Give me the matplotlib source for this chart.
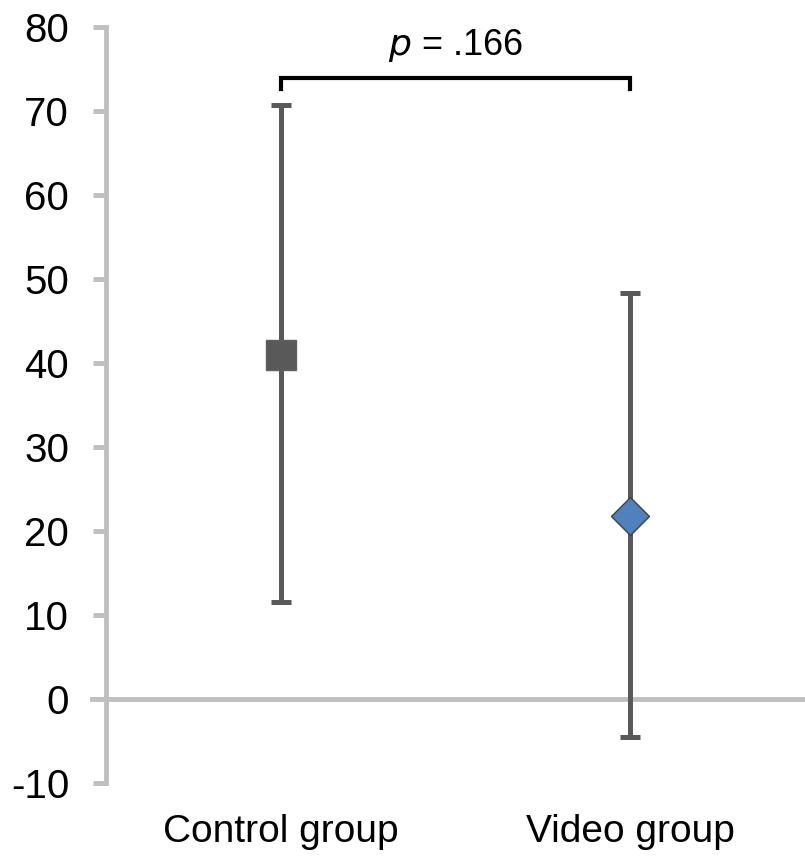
import matplotlib.pyplot as plt

plt.rcParams['font.family'] = ['Liberation Sans', 'DejaVu Sans']
plt.rcParams['axes.unicode_minus'] = False

groups = ['Control group', 'Video group']
means = [41.0, 21.8]
ci_low = [11.5, -4.5]
ci_high = [70.7, 48.3]
markers = ['s', 'D']
face_colors = ['#595959', '#4F81BD']
marker_sizes = [21, 19]
p_label = '.166'
bracket_y = 73.9
bracket_drop = 1.3

fig = plt.figure(figsize=(8.05, 8.57), dpi=100)
ax = fig.add_axes([0.1317, 0.0863, 0.8683, 0.8822])

axis_grey = '#BFBFBF'
bar_grey = '#595959'

# zero line (horizontal axis crossing at 0)
ax.axhline(0, xmin=-0.02, xmax=1, color=axis_grey, lw=3.5, clip_on=False, zorder=1)

for i in range(len(groups)):
    ax.errorbar(i, means[i],
                yerr=[[means[i] - ci_low[i]], [ci_high[i] - means[i]]],
                fmt='none', ecolor=bar_grey, elinewidth=3.6, capsize=7.5,
                capthick=3.6, zorder=2)
    ax.plot(i, means[i], marker=markers[i], ms=marker_sizes[i],
            mfc=face_colors[i], mec='#404040' if i else '#606060', mew=1.0,
            ls='none', zorder=3)

# significance bracket
ax.plot([0, 0, 1, 1],
        [bracket_y - bracket_drop, bracket_y, bracket_y, bracket_y - bracket_drop],
        color='black', lw=3, solid_joinstyle='miter', zorder=3)
ax.text(0.5, bracket_y + 1.7, r'$\it{p}$ = ' + p_label, ha='center', va='bottom',
        fontsize=26)

ax.set_xlim(-0.5, 1.5)
ax.set_ylim(-10, 80)
ax.set_yticks(range(-10, 81, 10))
ax.set_xticks(range(len(groups)))
ax.set_xticklabels(groups)

for side in ['top', 'right', 'bottom']:
    ax.spines[side].set_visible(False)
ax.spines['left'].set_color(axis_grey)
ax.spines['left'].set_linewidth(3.5)

ax.tick_params(axis='y', length=9.5, width=3.5, color=axis_grey, pad=17,
               labelsize=29)
ax.tick_params(axis='x', length=0, pad=22, labelsize=28)

fig.savefig('out.png', dpi=100)
